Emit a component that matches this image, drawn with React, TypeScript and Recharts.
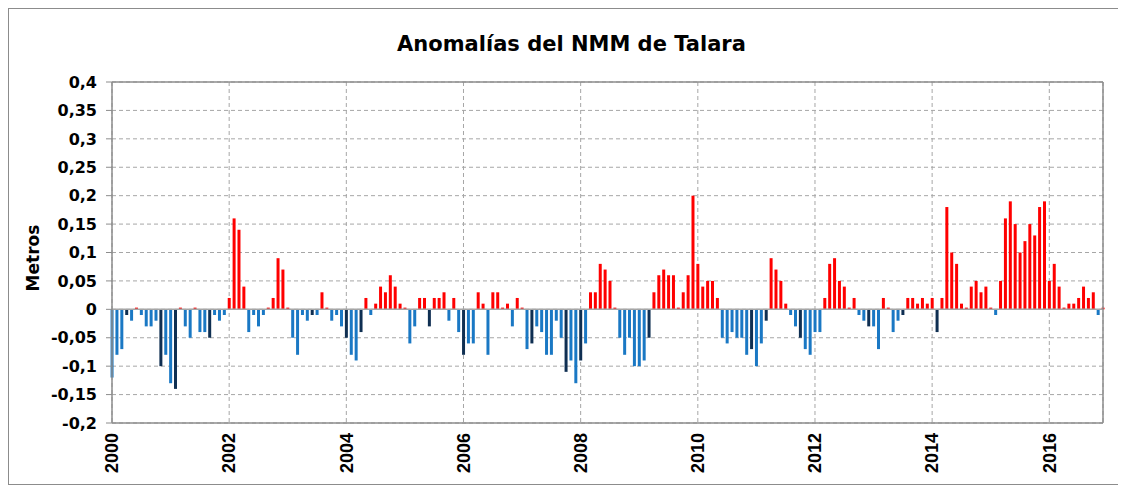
import React from 'react';
import { BarChart, Bar, Cell, XAxis, YAxis, CartesianGrid, ReferenceLine, Label } from 'recharts';

// monthly sea level anomalies (m), Jan..Dec
const y2000 = [-0.12, -0.08, -0.07, -0.01, -0.02, 0.003, -0.01, -0.03, -0.03, -0.02, -0.1, -0.08];
const y2001 = [-0.13, -0.14, 0.003, -0.03, -0.05, 0.003, -0.04, -0.04, -0.05, -0.01, -0.02, -0.01];
const y2002 = [0.02, 0.16, 0.14, 0.04, -0.04, -0.01, -0.03, -0.01, 0.003, 0.02, 0.09, 0.07];
const y2003 = [0.003, -0.05, -0.08, -0.01, -0.02, -0.01, -0.01, 0.03, 0.003, -0.02, -0.01, -0.03];
const y2004 = [-0.05, -0.08, -0.09, -0.04, 0.02, -0.01, 0.01, 0.04, 0.03, 0.06, 0.04, 0.01];
const y2005 = [0.003, -0.06, -0.03, 0.02, 0.02, -0.03, 0.02, 0.02, 0.03, -0.02, 0.02, -0.04];
const y2006 = [-0.08, -0.06, -0.06, 0.03, 0.01, -0.08, 0.03, 0.03, 0.003, 0.01, -0.03, 0.02];
const y2007 = [0.003, -0.07, -0.06, -0.03, -0.04, -0.08, -0.08, -0.02, -0.05, -0.11, -0.09, -0.13];
const y2008 = [-0.09, -0.06, 0.03, 0.03, 0.08, 0.07, 0.05, 0.003, -0.05, -0.08, -0.05, -0.1];
const y2009 = [-0.1, -0.09, -0.05, 0.03, 0.06, 0.07, 0.06, 0.06, 0.003, 0.03, 0.06, 0.2];
const y2010 = [0.08, 0.04, 0.05, 0.05, 0.02, -0.05, -0.06, -0.04, -0.05, -0.05, -0.08, -0.07];
const y2011 = [-0.1, -0.06, -0.02, 0.09, 0.07, 0.05, 0.01, -0.01, -0.03, -0.05, -0.07, -0.08];
const y2012 = [-0.04, -0.04, 0.02, 0.08, 0.09, 0.05, 0.04, 0.003, 0.02, -0.01, -0.02, -0.03];
const y2013 = [-0.03, -0.07, 0.02, 0.003, -0.04, -0.02, -0.01, 0.02, 0.02, 0.01, 0.02, 0.01];
const y2014 = [0.02, -0.04, 0.02, 0.18, 0.1, 0.08, 0.01, 0.003, 0.04, 0.05, 0.03, 0.04];
const y2015 = [0.003, -0.01, 0.05, 0.16, 0.19, 0.15, 0.1, 0.12, 0.15, 0.13, 0.18, 0.19];
const y2016 = [0.05, 0.08, 0.04, 0.003, 0.01, 0.01, 0.02, 0.04, 0.02, 0.03, -0.01, 0.003];

const years = [2000, 2001, 2002, 2003, 2004, 2005, 2006, 2007, 2008, 2009, 2010, 2011, 2012, 2013, 2014, 2015, 2016];
const yearValues = [y2000, y2001, y2002, y2003, y2004, y2005, y2006, y2007, y2008, y2009, y2010, y2011, y2012, y2013, y2014, y2015, y2016];

// months drawn in the darker shade
const darkMonths = [
  '2000-04', '2000-11', '2001-02', '2001-09', '2003-06', '2004-01', '2004-04', '2005-06', '2006-01',
  '2007-03', '2007-10', '2008-01', '2009-03', '2010-12', '2011-03', '2011-10', '2012-12', '2013-07', '2014-02',
];

const yTicks = [-0.2, -0.15, -0.1, -0.05, 0, 0.05, 0.1, 0.15, 0.2, 0.25, 0.3, 0.35, 0.4];
const xTickYears = [2000, 2002, 2004, 2006, 2008, 2010, 2012, 2014, 2016];

const data = years.flatMap((yr, yi) =>
  yearValues[yi].map((v, m) => ({
    t: yi * 12 + m,
    month: `${yr}-${String(m + 1).padStart(2, '0')}`,
    v,
  }))
);

const lastT = data.length - 1;

const colorFor = (d: { v: number; month: string }) => {
  if (d.v >= 0) return '#ff0000';
  return darkMonths.includes(d.month) ? '#0f2f52' : '#1a78c4';
};

const YearTick = (props: any) => {
  const { x, y, payload } = props;
  return (
    <text
      x={x}
      y={y}
      transform={`rotate(-90, ${x}, ${y})`}
      textAnchor="end"
      dy="0.35em"
      fontFamily="'Liberation Sans', Arial, sans-serif"
      fontWeight={700}
      fontSize={18}
      fill="#000"
    >
      {2000 + payload.value / 12}
    </text>
  );
};

const App = () => {
  return (
    <div
      style={{
        position: 'relative',
        width: 1111,
        height: 477,
        border: '1px solid #8c8c8c',
        boxSizing: 'border-box',
        background: '#fff',
      }}
    >
      <div
        style={{
          position: 'absolute',
          top: 22,
          left: 8,
          width: '100%',
          textAlign: 'center',
          fontFamily: "'DejaVu Sans', sans-serif",
          fontWeight: 700,
          fontSize: 21,
          lineHeight: '26px',
          color: '#000',
        }}
      >
        Anomalías del NMM de Talara
      </div>
      <BarChart width={1109} height={475} data={data} margin={{ top: 73, right: 15, bottom: 0, left: 23 }}>
        <CartesianGrid stroke="#a6a6a6" strokeDasharray="4 3" />
        <XAxis
          type="number"
          dataKey="t"
          domain={[0, lastT]}
          ticks={xTickYears.map((yr) => (yr - 2000) * 12)}
          tick={<YearTick />}
          tickLine={false}
          tickMargin={4}
          height={61}
          axisLine={{ stroke: '#8c8c8c', strokeWidth: 1.5 }}
          interval={0}
        />
        <YAxis
          domain={[-0.2, 0.4]}
          ticks={yTicks}
          width={80}
          tickSize={6}
          tickMargin={9}
          interval={0}
          tickFormatter={(v: number) => String(v).replace('.', ',')}
          tick={{ fontFamily: "'DejaVu Sans', sans-serif", fontWeight: 700, fontSize: 16, fill: '#000' }}
          tickLine={{ stroke: '#8c8c8c' }}
          axisLine={{ stroke: '#8c8c8c', strokeWidth: 1.5 }}
        >
          <Label
            content={() => (
              <text
                x={24}
                y={249}
                transform="rotate(-90, 24, 249)"
                textAnchor="middle"
                dy="0.35em"
                fontFamily="'DejaVu Sans', sans-serif"
                fontWeight={700}
                fontSize={17}
                fill="#000"
              >
                Metros
              </text>
            )}
          />
        </YAxis>
        <ReferenceLine y={0} stroke="#a6a6a6" strokeWidth={1.5} />
        <ReferenceLine y={0.4} stroke="#8c8c8c" strokeWidth={1.5} />
        <ReferenceLine x={lastT} stroke="#8c8c8c" strokeWidth={1.5} />
        <Bar dataKey="v" barSize={3} isAnimationActive={false}>
          {data.map((d) => (
            <Cell key={d.month} fill={colorFor(d)} />
          ))}
        </Bar>
      </BarChart>
    </div>
  );
};

export default App;
